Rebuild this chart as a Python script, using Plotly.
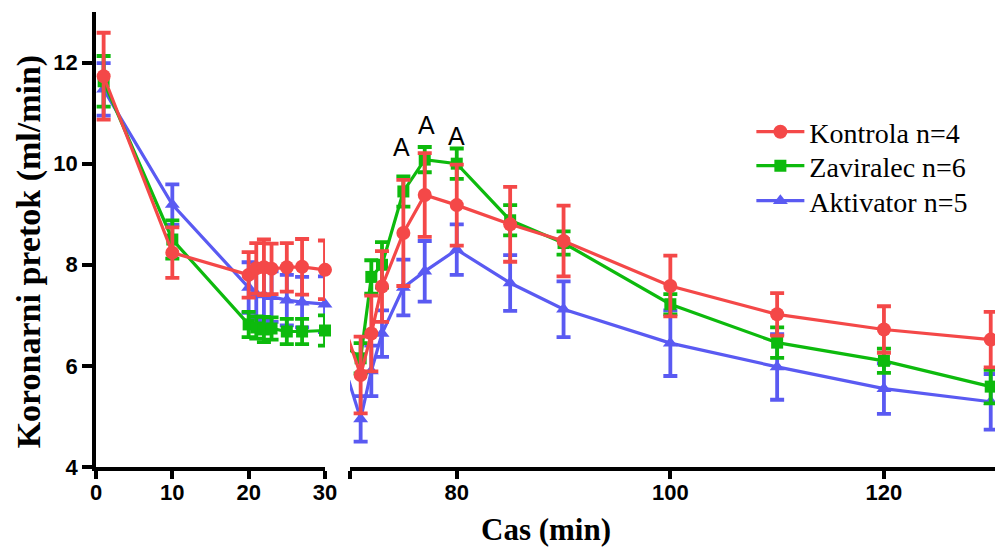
import plotly.graph_objects as go

# ---------------- data ----------------
t_left = [1, 10, 20, 21, 22, 23, 25, 27, 30]
t_right = [71, 72, 73, 75, 77, 80, 85, 90, 100, 110, 120, 130]

kontrola_left = [11.73, 8.24, 7.80, 7.93, 7.95, 7.92, 7.95, 7.96, 7.90]
kontrola_right = [5.82, 6.64, 7.57, 8.63, 9.38, 9.18, 8.80, 8.47, 7.58, 7.02, 6.72, 6.52]
kontrola_err_left = [0.86, 0.50, 0.45, 0.50, 0.55, 0.50, 0.48, 0.55, 0.58]
kontrola_err_right = [0.76, 0.75, 0.70, 1.05, 0.83, 0.80, 0.74, 0.70, 0.60, 0.42, 0.46, 0.55]

zaviralec_left = [11.63, 8.50, 6.82, 6.76, 6.72, 6.74, 6.68, 6.68, 6.70]
zaviralec_right = [6.15, 7.76, 8.00, 9.45, 10.08, 10.00, 8.88, 8.43, 7.22, 6.46, 6.10, 5.59]
zaviralec_err_left = [0.50, 0.38, 0.25, 0.22, 0.25, 0.22, 0.25, 0.25, 0.30]
zaviralec_err_right = [0.30, 0.33, 0.45, 0.30, 0.25, 0.30, 0.30, 0.23, 0.20, 0.30, 0.24, 0.33]

aktivator_left = [11.47, 9.19, 7.55, 7.42, 7.40, 7.37, 7.30, 7.26, 7.22]
aktivator_right = [4.95, 5.90, 6.64, 7.55, 7.87, 8.30, 7.64, 7.12, 6.45, 5.98, 5.55, 5.29]
aktivator_err_left = [0.52, 0.40, 0.50, 0.50, 0.50, 0.50, 0.50, 0.50, 0.55]
aktivator_err_right = [0.45, 0.50, 0.46, 0.55, 0.60, 0.50, 0.55, 0.55, 0.65, 0.65, 0.50, 0.55]

series_names = ["Kontrola n=4", "Zaviralec n=6", "Aktivator n=5"]
left_ticks = [0, 10, 20, 30]
right_ticks = [70, 80, 100, 120]
right_ticktext = ["", "80", "100", "120"]
y_ticks = [4, 6, 8, 10, 12]

sig_labels = ["A", "A", "A"]
sig_x = [74.8, 77.2, 80.0]
sig_y = [10.32, 10.76, 10.54]

# ---------------- style ----------------
colors = {"Kontrola n=4": "#F44848", "Zaviralec n=6": "#0DBA0D", "Aktivator n=5": "#5A5AF2"}
symbols = {"Kontrola n=4": "circle", "Zaviralec n=6": "square", "Aktivator n=5": "triangle-up"}
msize = {"Kontrola n=4": 14, "Zaviralec n=6": 12, "Aktivator n=5": 13}
legend_ids = {"Kontrola n=4": "legend", "Zaviralec n=6": "legend2", "Aktivator n=5": "legend3"}
legend_y = {"legend": 0.7363, "legend2": 0.6615, "legend3": 0.5846}

left_dom = [0.0, 0.2547]
right_dom = [0.2825, 1.0]
left_range = [0, 30]
right_range = [70, 130.4]

# position (in right-axis units) of the left panel's right edge, for lines bridging the break
x_bridge = right_range[0] - (right_dom[0] - left_dom[1]) / (right_dom[1] - right_dom[0]) * (right_range[1] - right_range[0])

data = {
    "Kontrola n=4": (kontrola_left, kontrola_err_left, kontrola_right, kontrola_err_right),
    "Zaviralec n=6": (zaviralec_left, zaviralec_err_left, zaviralec_right, zaviralec_err_right),
    "Aktivator n=5": (aktivator_left, aktivator_err_left, aktivator_right, aktivator_err_right),
}

fig = go.Figure()

for name in ["Aktivator n=5", "Zaviralec n=6", "Kontrola n=4"]:
    yl, el, yr, er = data[name]
    c = colors[name]
    marker = dict(symbol=symbols[name], size=msize[name], color=c, line=dict(width=0))
    line = dict(color=c, width=3.2)
    fig.add_trace(go.Scatter(x=[x_bridge, t_right[0]], y=[yl[-1], yr[0]], mode="lines",
                             line=line, xaxis="x2", yaxis="y", showlegend=False, hoverinfo="skip"))
    fig.add_trace(go.Scatter(x=t_left, y=yl, mode="lines+markers", name=name, legendgroup=name,
                             legend=legend_ids[name],
                             marker=marker, line=line, cliponaxis=False,
                             error_y=dict(type="data", array=el, visible=True, color=c, thickness=3.8, width=7),
                             xaxis="x", yaxis="y", showlegend=True))
    fig.add_trace(go.Scatter(x=t_right, y=yr, mode="lines+markers", name=name, legendgroup=name,
                             marker=marker, line=line, cliponaxis=False,
                             error_y=dict(type="data", array=er, visible=True, color=c, thickness=3.8, width=7),
                             xaxis="x2", yaxis="y", showlegend=False))

tickfont = dict(family="Liberation Sans", size=22, color="black", weight="bold")
axis_common = dict(showline=True, linewidth=3.5, linecolor="black", ticks="outside",
                   tickwidth=3.5, tickcolor="black", showgrid=False, zeroline=False,
                   tickfont=tickfont, automargin=False)
x_common = dict(ticklen=8, ticklabelstandoff=-5, **axis_common)

annotations = [
    dict(text="Koronarni pretok (ml/min)", x=-0.0745, y=0.474, xref="paper", yref="paper",
         textangle=-90, showarrow=False, xanchor="center", yanchor="middle",
         font=dict(family="Liberation Serif", size=34, color="black", weight="bold")),
    dict(text="Cas (min)", x=0.5, y=-0.138, xref="paper", yref="paper", showarrow=False,
         xanchor="center", yanchor="middle",
         font=dict(family="Liberation Serif", size=31, color="black", weight="bold")),
]
for lab, sx, sy in zip(sig_labels, sig_x, sig_y):
    annotations.append(dict(text=lab, x=sx, y=sy, xref="x2", yref="y", showarrow=False,
                            xanchor="center", yanchor="middle",
                            font=dict(family="Liberation Sans", size=25, color="black")))

legend_common = dict(x=0.729, xanchor="left", yanchor="middle", bgcolor="rgba(0,0,0,0)",
                     font=dict(family="Liberation Serif", size=28, color="black"), itemwidth=48)

fig.update_layout(
    width=995, height=547, autosize=False,
    margin=dict(l=96, r=0, t=12, b=80, autoexpand=False),
    paper_bgcolor="white", plot_bgcolor="white",
    xaxis=dict(domain=left_dom, range=left_range, tickvals=left_ticks, anchor="y", **x_common),
    xaxis2=dict(domain=right_dom, range=right_range, tickvals=right_ticks, ticktext=right_ticktext,
                anchor="y", **x_common),
    yaxis=dict(range=[4, 13], tickvals=y_ticks, anchor="x", ticklen=10, **axis_common),
    legend=dict(y=legend_y["legend"], **legend_common),
    legend2=dict(y=legend_y["legend2"], **legend_common),
    legend3=dict(y=legend_y["legend3"], **legend_common),
    annotations=annotations,
    showlegend=True,
)

post = ("document.documentElement.style.overflow='hidden';"
        "document.body.style.margin='0';document.body.style.overflow='hidden';")

fig.write_html("out.html", config={"displayModeBar": False}, post_script=post)
